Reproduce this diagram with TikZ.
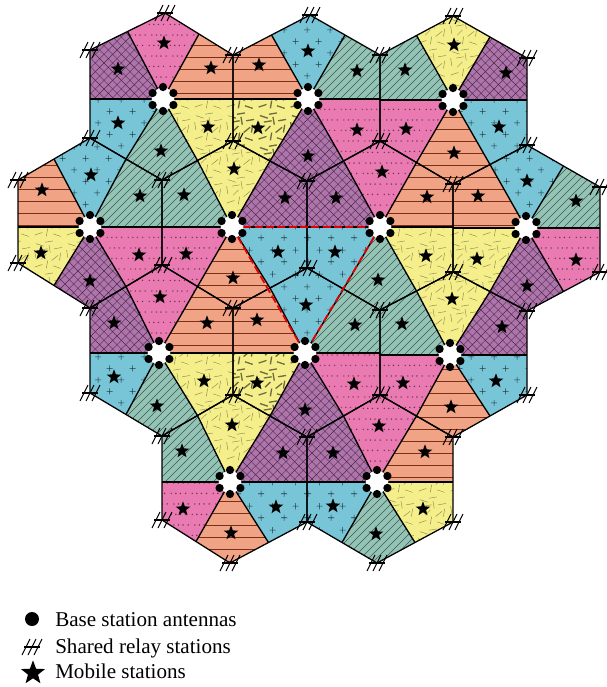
\documentclass[tikz,border=0pt]{standalone}
\usepackage{fontspec}
\setmainfont{Liberation Serif}
\usepackage{tikz}
\usetikzlibrary{shapes.geometric, patterns, calc}

\definecolor{cellcyan}{HTML}{78C5D8}
\definecolor{cellgreen}{HTML}{93C4B6}
\definecolor{cellpink}{HTML}{E97AB2}
\definecolor{cellpurple}{HTML}{B074AD}
\definecolor{cellyellow}{HTML}{F5EF8B}
\definecolor{cellorange}{HTML}{F1A385}
\definecolor{rowbrown}{HTML}{7A3018}

% Hatchings of the sectors
\pgfdeclarepatternformonly{rowlines}{\pgfqpoint{-1pt}{0pt}}{\pgfqpoint{10pt}{9pt}}{\pgfqpoint{9pt}{9pt}}{
  \pgfsetlinewidth{0.7pt}
  \pgfpathmoveto{\pgfqpoint{-1pt}{4.5pt}}\pgfpathlineto{\pgfqpoint{10pt}{4.5pt}}
  \pgfusepath{stroke}}
\pgfdeclarepatternformonly{slantlines}{\pgfqpoint{-1pt}{-1pt}}{\pgfqpoint{7pt}{7pt}}{\pgfqpoint{6pt}{6pt}}{
  \pgfsetlinewidth{0.4pt}
  \pgfpathmoveto{\pgfqpoint{0pt}{0pt}}\pgfpathlineto{\pgfqpoint{6.1pt}{6.1pt}}
  \pgfusepath{stroke}}
\pgfdeclarepatternformonly{crosslines}{\pgfqpoint{-1pt}{-1pt}}{\pgfqpoint{7.5pt}{7.5pt}}{\pgfqpoint{6.5pt}{6.5pt}}{
  \pgfsetlinewidth{0.35pt}
  \pgfpathmoveto{\pgfqpoint{0pt}{0pt}}\pgfpathlineto{\pgfqpoint{6.6pt}{6.6pt}}
  \pgfpathmoveto{\pgfqpoint{0pt}{6.5pt}}\pgfpathlineto{\pgfqpoint{6.6pt}{-0.1pt}}
  \pgfusepath{stroke}}
\pgfdeclarepatternformonly{plusmarks}{\pgfpointorigin}{\pgfqpoint{17.5pt}{17.5pt}}{\pgfqpoint{17.5pt}{17.5pt}}{
  \pgfsetlinewidth{0.4pt}
  \foreach \px/\py in {4/4, 12.75/12.75}{
    \pgfpathmoveto{\pgfpoint{\px pt-2.3pt}{\py pt}}\pgfpathlineto{\pgfpoint{\px pt+2.3pt}{\py pt}}
    \pgfpathmoveto{\pgfpoint{\px pt}{\py pt-2.3pt}}\pgfpathlineto{\pgfpoint{\px pt}{\py pt+2.3pt}}
  }
  \pgfusepath{stroke}}
\pgfdeclarepatternformonly{dotrows}{\pgfpointorigin}{\pgfqpoint{16pt}{16pt}}{\pgfqpoint{16pt}{16pt}}{
  \foreach \px/\py in {1/2, 4.5/2, 8/2, 12/2, 3/10, 6.5/10, 10/10, 14/10}{
    \pgfpathcircle{\pgfqpoint{\px pt}{\py pt}}{0.6pt}
  }
  \pgfusepath{fill}}
\pgfdeclarepatternformonly{dashmarks}{\pgfpointorigin}{\pgfqpoint{24pt}{24pt}}{\pgfqpoint{24pt}{24pt}}{
  \pgfsetlinewidth{0.35pt}
  \foreach \ax/\ay/\bx/\by in {2/3/8/5, 11/2/12/8, 16/4/22/2, 3/10/2/16, 7/9/11/13, 15/8/20/12,
      21/8/22/14, 6/16/12/17, 14/14/13/20, 17/17/23/18, 3/21/9/19, 10/22/16/23}{
    \pgfpathmoveto{\pgfqpoint{\ax pt}{\ay pt}}\pgfpathlineto{\pgfqpoint{\bx pt}{\by pt}}
  }
  \pgfusepath{stroke}}
\pgfdeclarepatternformonly{dashbold}{\pgfpointorigin}{\pgfqpoint{24pt}{24pt}}{\pgfqpoint{24pt}{24pt}}{
  \pgfsetlinewidth{1pt}
  \foreach \ax/\ay/\bx/\by in {2/3/8/5, 11/2/12/8, 16/4/22/2, 3/10/2/16, 7/9/11/13, 15/8/20/12,
      21/8/22/14, 6/16/12/17, 14/14/13/20, 17/17/23/18, 3/21/9/19, 10/22/16/23}{
    \pgfpathmoveto{\pgfqpoint{\ax pt}{\ay pt}}\pgfpathlineto{\pgfqpoint{\bx pt}{\by pt}}
  }
  \pgfusepath{stroke}}

\newcommand{\sectorfill}[5]{\path[#5] (#1) -- (#2) -- (#3) -- (#4) -- cycle;}

\begin{document}
\begin{tikzpicture}[
    x=0.75pt, y=-0.75pt,
    cy/.style={preaction={fill=cellcyan}, pattern=plusmarks, pattern color=black!70!cellcyan},
    gr/.style={preaction={fill=cellgreen}, pattern=slantlines, pattern color=black!55!cellgreen},
    pk/.style={preaction={fill=cellpink}, pattern=dotrows, pattern color=black!55!cellpink},
    pkd/.style={preaction={fill=cellpink}, pattern=dotrows, pattern color=black!75!red!50!cellpink},
    pu/.style={preaction={fill=cellpurple}, pattern=crosslines, pattern color=black!60!cellpurple},
    ye/.style={preaction={fill=cellyellow}, pattern=dashmarks, pattern color=black!42!cellyellow},
    yed/.style={preaction={fill=cellyellow}, pattern=dashbold, pattern color=black!55!cellyellow},
    or/.style={preaction={fill=cellorange}, pattern=rowlines, pattern color=rowbrown},
    spoke/.style={draw=black, line width=1pt},
    crossspoke/.style={draw=black, line width=1.4pt},
    hexedge/.style={draw=black, line width=0.95pt},
    redside/.style={draw=red!90!black, line width=1.3pt, dash pattern=on 6pt off 2.5pt},
    mobile/.style={star, star points=5, star point ratio=2.4, fill=black, inner sep=0pt, minimum size=11.5pt},
    legendstar/.style={mobile, minimum size=19pt},
    antdot/.style={circle, fill=black, inner sep=0pt, minimum size=6.2pt},
    antcore/.style={circle, fill=white, inner sep=0pt, minimum size=17pt},
    legendtext/.style={anchor=base west, inner sep=0pt, font=\fontsize{15.8}{18}\selectfont},
    relaymark/.pic={
      \draw[line width=0.95pt] (-8,0) -- (8,0);
      \foreach \dx in {-6,0,6} \draw[line width=0.8pt] (\dx-4,8) -- (\dx+4,-8);
    },
    antenna/.pic={
      \node[antcore] (-core) at (0,0) {};
      \foreach \a in {90,30,-30,-90,-150,150} \node[antdot] (-d\a) at (\a:12) {};
    },
  ]
  \useasboundingbox (0,0) rectangle (607,687);

  % Base stations
  \foreach \bs/\x/\y in {b1/163/99, b2/308/99, b3/453/100, b4/90/227, b5/232/227, b6/380/227,
      b7/526/228, b8/159/353, b9/305/353, b10/450/355, b11/230/482, b12/377/482}
    \coordinate (\bs) at (\x,\y);

  % Relay stations
  \foreach \rs/\x/\y in {a1/165/13, a2/310/15, a3/453/16,
      c1/90/50, c2/233/55, c3/380/55, c4/527/58,
      e1/90/138, e2/233/141, e3/380/141, e4/527/145,
      f1/18/180, f2/162/180, f3/307/181, f4/453/184, f5/600/187,
      k1/18/263, k2/162/265, k3/307/268, k4/453/272, k5/600/272,
      m1/90/308, m2/233/308, m3/380/310, m4/527/311,
      p1/90/393, p2/233/395, p3/380/395, p4/527/395,
      q1/162/436, q2/307/437, q3/453/437,
      s1/162/520, s2/307/522, s3/453/522,
      t1/230/563, t2/377/563}
    \coordinate (\rs) at (\x,\y);

  % Sectors: top, upper right, lower right, bottom, lower left, upper left
  \foreach \bs/\ra/\rb/\rc/\rd/\re/\rf/\ca/\cb/\cc/\cd/\ce/\cf in {
      b1/a1/c2/e2/f2/e1/c1/pk/or/ye/gr/cy/pu,
      b2/a2/c3/e3/f3/e2/c2/cy/gr/pkd/pu/yed/or,
      b3/a3/c4/e4/f4/e3/c3/ye/pu/cy/or/pk/gr,
      b4/e1/f2/k2/m1/k1/f1/cy/gr/pkd/pu/ye/or,
      b5/e2/f3/k3/m2/k2/f2/ye/pu/cy/or/pk/gr,
      b6/e3/f4/k4/m3/k3/f3/pk/or/ye/gr/cy/pu,
      b7/e4/f5/k5/m4/k4/f4/cy/gr/pk/pu/ye/or,
      b8/k2/m2/p2/q1/p1/m1/pk/or/ye/gr/cy/pu,
      b9/k3/m3/p3/q2/p2/m2/cy/gr/pkd/pu/yed/or,
      b10/k4/m4/p4/q3/p3/m3/ye/pu/cy/or/pk/gr,
      b11/p2/q2/s2/t1/s1/q1/ye/pu/cy/or/pk/gr,
      b12/p3/q3/s3/t2/s2/q2/pk/or/ye/gr/cy/pu}{
    \coordinate (\bs-s1) at ($(\ra)!0.5!(\rb)$);
    \coordinate (\bs-s2) at (\rb |- \bs);
    \coordinate (\bs-s3) at ($(\rc)!0.5!(\rd)$);
    \coordinate (\bs-s4) at ($(\rd)!0.5!(\re)$);
    \coordinate (\bs-s5) at (\re |- \bs);
    \coordinate (\bs-s6) at ($(\rf)!0.5!(\ra)$);
    \sectorfill{\bs}{\bs-s6}{\ra}{\bs-s1}{\ca}
    \sectorfill{\bs}{\bs-s1}{\rb}{\bs-s2}{\cb}
    \sectorfill{\bs}{\bs-s2}{\rc}{\bs-s3}{\cc}
    \sectorfill{\bs}{\bs-s3}{\rd}{\bs-s4}{\cd}
    \sectorfill{\bs}{\bs-s4}{\re}{\bs-s5}{\ce}
    \sectorfill{\bs}{\bs-s5}{\rf}{\bs-s6}{\cf}
  }
  % Lines go over all the sectors
  \foreach \bs/\ra/\rb/\rc/\rd/\re/\rf in {
      b1/a1/c2/e2/f2/e1/c1, b2/a2/c3/e3/f3/e2/c2, b3/a3/c4/e4/f4/e3/c3,
      b4/e1/f2/k2/m1/k1/f1, b5/e2/f3/k3/m2/k2/f2, b6/e3/f4/k4/m3/k3/f3,
      b7/e4/f5/k5/m4/k4/f4, b8/k2/m2/p2/q1/p1/m1, b9/k3/m3/p3/q2/p2/m2,
      b10/k4/m4/p4/q3/p3/m3, b11/p2/q2/s2/t1/s1/q1, b12/p3/q3/s3/t2/s2/q2}{
    \foreach \n in {1,3,4,6} \draw[spoke] (\bs) -- (\bs-s\n);
    \draw[crossspoke] (\bs-s5) -- (\bs) -- (\bs-s2);
    \draw[hexedge] (\ra) -- (\rb) -- (\rc) -- (\rd) -- (\re) -- (\rf) -- cycle;
  }

  % Red sides of the middle triangle
  \draw[redside] (b5) -- (b6);
  \draw[redside] (b5) -- (b9);
  \draw[redside] (b6) -- (b9);

  % Mobile stations
  \foreach \x/\y [count=\i] in {
      164/43, 211/68, 208/127, 161/151, 118/123, 118/69,
      308/51, 357/71, 357/130, 308/156, 258/128, 259/65,
      454/45, 506/73, 499/127, 454/153, 406/129, 405/70,
      91/175, 140/196, 139/255, 90/281, 41/253, 42/190,
      234/169, 285/198, 278/252, 233/278, 186/254, 184/195,
      382/172, 427/197, 426/256, 378/280, 335/252, 336/198,
      527/181, 576/201, 576/260, 527/286, 477/259, 478/196,
      160/297, 207/323, 204/381, 157/406, 114/377, 114/323,
      306/305, 355/325, 354/384, 305/410, 257/383, 257/320,
      452/299, 502/327, 496/381, 451/407, 403/383, 402/324,
      232/425, 283/453, 276/507, 231/533, 183/509, 182/451,
      379/426, 425/452, 423/509, 376/534, 333/506, 333/453}
    \node[mobile] (ms\i) at (\x,\y) {};

  % Antennas and relays on top
  \foreach \bs in {b1,b2,b3,b4,b5,b6,b7,b8,b9,b10,b11,b12}
    \pic (\bs-ant) at (\bs) {antenna};
  \foreach \rs in {a1,a2,a3,c1,c2,c3,c4,e1,e2,e3,e4,f1,f2,f3,f4,f5,k1,k2,k3,k4,k5,
      m1,m2,m3,m4,p1,p2,p3,p4,q1,q2,q3,s1,s2,s3,t1,t2}
    \pic (\rs-mark) at (\rs) {relaymark};

  % Legend
  \node[circle, fill=black, inner sep=0pt, minimum size=10.5pt] (keybase) at (32,619) {};
  \pic (keyrelay) at (32,647) {relaymark};
  \node[legendstar] (keymobile) at (33,673) {};
  \node[legendtext] (basetext) at (55,626) {Base station antennas};
  \node[legendtext] (relaytext) at (55,653) {Shared relay stations};
  \node[legendtext] (mobiletext) at (55,678) {Mobile stations};
\end{tikzpicture}
\end{document}
